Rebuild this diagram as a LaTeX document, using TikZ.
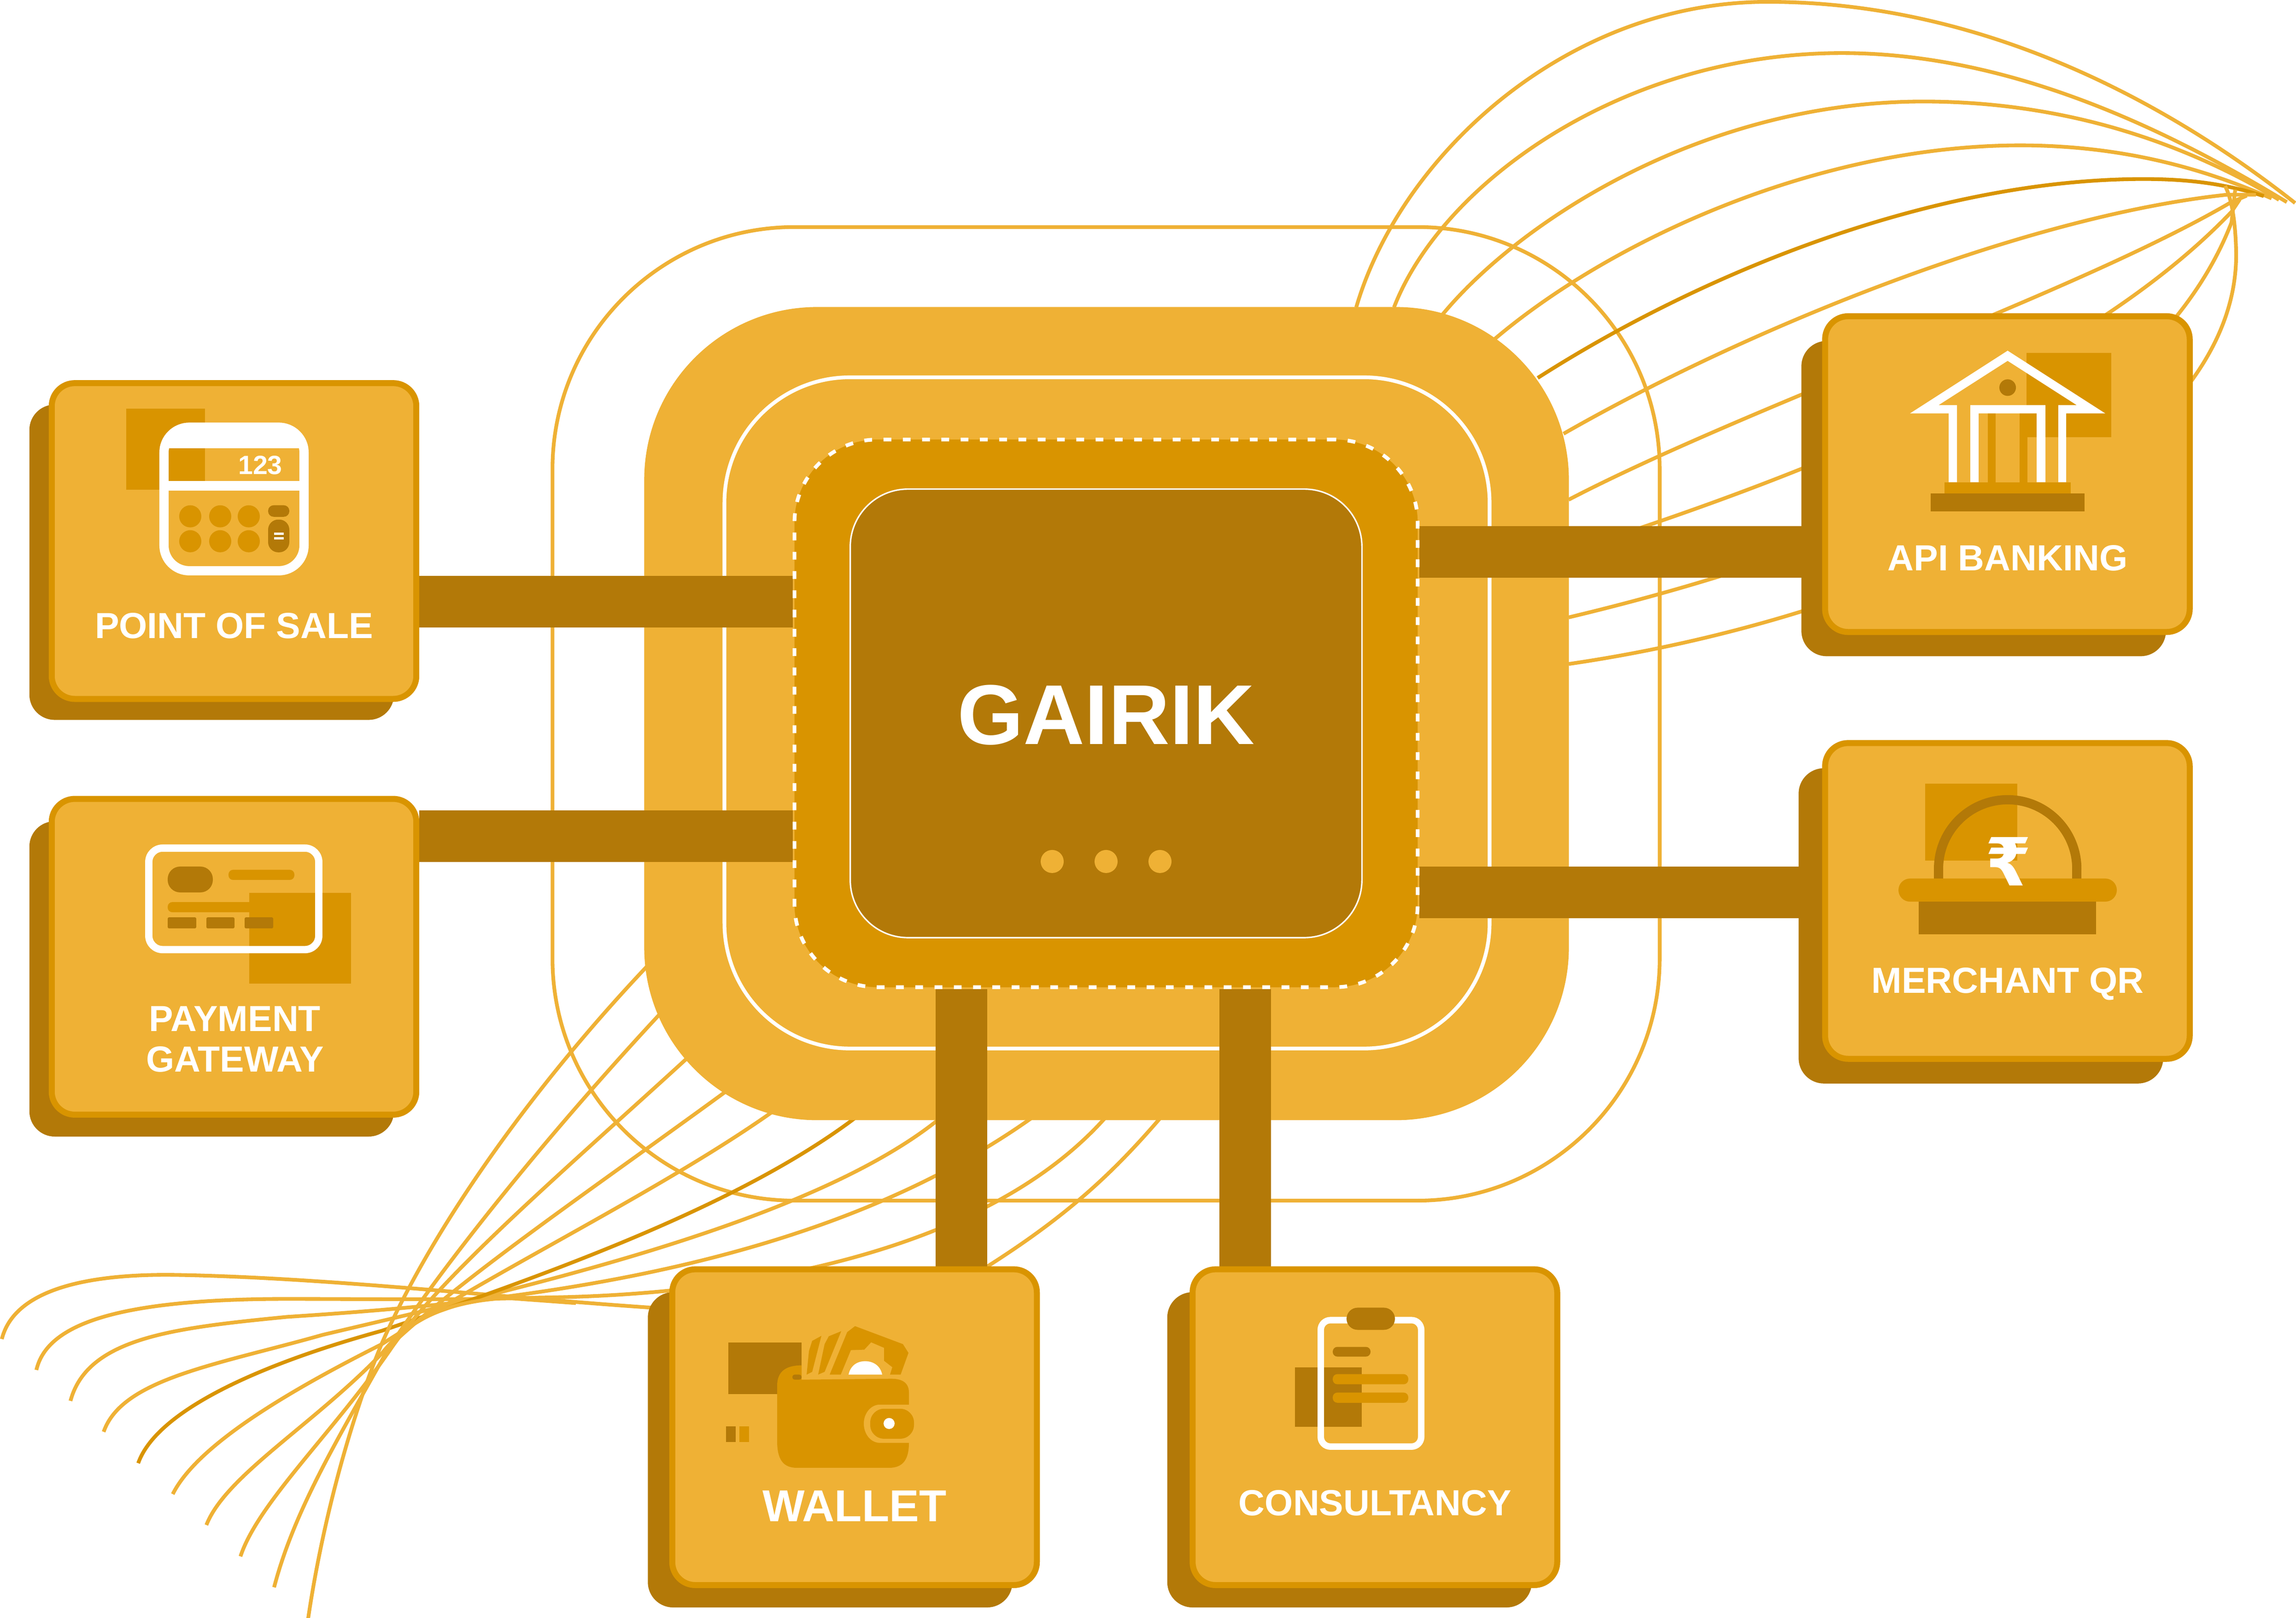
\documentclass[tikz,border=0pt]{standalone}
\usepackage{fontspec}
\setmainfont{Liberation Sans}
\newfontfamily\rupeefont{DejaVu Sans}
\definecolor{lighttone}{HTML}{EFB135}
\definecolor{midtone}{HTML}{D99400}
\definecolor{darktone}{HTML}{B37908}
\pgfdeclarelayer{back}
\pgfdeclarelayer{wire}
\pgfsetlayers{back,wire,main}
\tikzset{
  shadebox/.style={fill=darktone,rounded corners=0.55cm,minimum width=7.91cm,minimum height=6.84cm,inner sep=0pt},
  cardbox/.style={fill=lighttone,draw=midtone,line width=3.7pt,rounded corners=0.5cm,minimum width=7.91cm,minimum height=6.85cm,inner sep=0pt},
  cardlabel/.style={text=white,inner sep=0pt,align=center,font=\bfseries\fontsize{22.4}{25}\selectfont},
  busbar/.style={draw=darktone,line width=31.87pt},
  swirl/.style={draw=lighttone,line width=2.3pt},
  swirldark/.style={draw=midtone,line width=2.3pt},
  lightfill/.style={fill=lighttone},
  midfill/.style={fill=midtone},
  darkfill/.style={fill=darktone}
}
\begin{document}
\begin{tikzpicture}[x=0.01cm,y=-0.010015cm]
\useasboundingbox (0,2) rectangle (4984,3507.7);

\begin{pgfonlayer}{back}
\node[draw=lighttone,line width=2.3pt,rounded corners=5.25cm,minimum width=24.02cm,minimum height=21.12cm,inner sep=0pt] (ring) at (2401,1549) {};
\draw[swirl] (2944,668) .. controls (3040,340) and (3400,6) .. (3837,6) .. controls (4300,6) and (4700,220) .. (4982,442);
\draw[swirl] (3026,668) .. controls (3130,400) and (3520,117) .. (3998,117) .. controls (4360,117) and (4700,280) .. (4964,440);
\draw[swirl] (3131,684) .. controls (3300,480) and (3700,222) .. (4175,222) .. controls (4480,222) and (4740,310) .. (4947,435);
\draw[swirl] (3243,738) .. controls (3500,520) and (3950,317) .. (4385,317) .. controls (4600,317) and (4780,365) .. (4931,432);
\draw[swirldark] (3338,821) .. controls (3700,590) and (4200,390) .. (4653,390) .. controls (4750,390) and (4830,400) .. (4914,427);
\draw[swirl] (3394,942) .. controls (3800,710) and (4400,470) .. (4834,424) -- (4897,424);
\draw[swirl] (3405,1085) .. controls (3800,880) and (4500,640) .. (4840,442) -- (4877,426);
\draw[swirl] (3405,1197) .. controls (3900,1040) and (4520,800) .. (4844,461) -- (4862,434);
\draw[swirl] (3405,1340) .. controls (3950,1210) and (4660,960) .. (4844,484) -- (4852,413);
\draw[swirl] (3405,1441) .. controls (4100,1340) and (4860,1000) .. (4854,549) .. controls (4853,500) and (4848,440) .. (4830,405);
\draw[swirl] (4,2904) .. controls (30,2800) and (180,2762) .. (381,2765) .. controls (700,2770) and (1100,2815) .. (1415,2836);
\draw[swirl] (2130,2755) .. controls (2330,2630) and (2430,2530) .. (2540,2400);
\draw[swirl] (79,2971) .. controls (100,2880) and (230,2817) .. (622,2817) .. controls (800,2817) and (1000,2820) .. (1173,2814) .. controls (1600,2810) and (2160,2720) .. (2420,2400);
\draw[swirl] (153,3038) .. controls (190,2900) and (380,2880) .. (622,2856) .. controls (1100,2825) and (1800,2760) .. (2280,2395);
\draw[swirl] (225,3105) .. controls (265,2990) and (470,2960) .. (700,2895) .. controls (1100,2800) and (1800,2650) .. (2070,2400);
\draw[swirldark] (300,3173) .. controls (340,3060) and (560,2960) .. (829,2886) .. controls (1200,2760) and (1650,2600) .. (1900,2390);
\draw[swirl] (375,3240) .. controls (430,3130) and (640,3010) .. (829,2915) .. controls (1100,2740) and (1480,2560) .. (1720,2380);
\draw[swirl] (448,3307) .. controls (490,3200) and (680,3090) .. (829,2935) .. controls (1000,2770) and (1300,2570) .. (1620,2335);
\draw[swirl] (522,3375) .. controls (560,3260) and (720,3110) .. (845,2930) .. controls (960,2760) and (1270,2500) .. (1530,2260);
\draw[swirl] (595,3442) .. controls (640,3270) and (740,3110) .. (840,2930) .. controls (930,2790) and (1150,2500) .. (1460,2170);
\draw[swirl] (669,3509) .. controls (700,3300) and (760,3080) .. (829,2913) .. controls (950,2640) and (1180,2330) .. (1420,2080);
\draw[swirl] (829,2935) .. controls (880,2870) and (960,2822) .. (1100,2815) -- (1250,2826);
\node[fill=lighttone,rounded corners=3.75cm,minimum width=20.06cm,minimum height=17.64cm,inner sep=0pt] (block) at (2402,1548.5) {};
\node[draw=white,line width=2.3pt,rounded corners=2.72cm,minimum width=16.6cm,minimum height=14.56cm,inner sep=0pt] (halo) at (2403,1547) {};
\end{pgfonlayer}

\node[fill=midtone,draw=white,line width=2.3pt,dash pattern=on 4.8pt off 7.1pt,rounded corners=1.8cm,minimum width=13.52cm,minimum height=11.88cm,inner sep=0pt] (frame) at (2401,1548) {};
\node[fill=darktone,draw=white,line width=0.9pt,rounded corners=1.25cm,minimum width=11.1cm,minimum height=9.73cm,inner sep=0pt] (core) at (2401,1548) {};
\node[text=white,inner sep=0pt,font=\bfseries\fontsize{52.4}{54}\selectfont] (gairik) at (2401,1552) {GAIRIK};
\fill[lightfill] (2284,1869) circle (0.25cm);
\fill[lightfill] (2401,1869) circle (0.25cm);
\fill[lightfill] (2518,1869) circle (0.25cm);

\node[shadebox] (posshade) at (459.5,1220.5) {};
\node[cardbox] (pos) at (508,1174.5) {};
\node[shadebox] (payshade) at (459.5,2123.5) {};
\node[cardbox] (pay) at (508,2075.5) {};
\node[shadebox] (apishade) at (4306,1082.5) {};
\node[cardbox] (api) at (4357.5,1029.5) {};
\node[shadebox] (qrshade) at (4300,2008.5) {};
\node[cardbox] (qr) at (4357.5,1954.5) {};
\node[shadebox] (walletshade) at (1802,3144) {};
\node[cardbox] (wallet) at (1855,3095) {};
\node[shadebox] (consultshade) at (2929.5,3144) {};
\node[cardbox] (consult) at (2984.5,3095) {};

\coordinate (posbar) at (0,1306);
\coordinate (paybar) at (0,1814);
\coordinate (apibar) at (0,1198);
\coordinate (qrbar) at (0,1936);
\coordinate (walletbar) at (2087,0);
\coordinate (consultbar) at (2703,0);
\begin{pgfonlayer}{wire}
\draw[busbar] (pos.east |- posbar) -- (frame.west |- posbar);
\draw[busbar] (pay.east |- paybar) -- (frame.west |- paybar);
\draw[busbar] (frame.east |- apibar) -- (api.west |- apibar);
\draw[busbar] (frame.east |- qrbar) -- (qr.west |- qrbar);
\draw[busbar] (frame.south -| walletbar) -- (wallet.north -| walletbar);
\draw[busbar] (frame.south -| consultbar) -- (consult.north -| consultbar);
\end{pgfonlayer}

\fill[midfill] (274,888) rectangle (445,1063);
\draw[white,line width=5.7pt,rounded corners=0.55cm] (356,928) rectangle (660,1239);
\begin{scope}
\clip[rounded corners=0.65cm] (346,918) rectangle (670,1249);
\fill[white] (346,918) rectangle (670,973);
\end{scope}
\fill[white] (346,1044) rectangle (670,1065);
\fill[midfill] (413,1121) circle (0.24cm);
\fill[midfill] (478,1121) circle (0.24cm);
\fill[midfill] (540,1121) circle (0.24cm);
\fill[midfill] (413,1175) circle (0.24cm);
\fill[midfill] (478,1175) circle (0.24cm);
\fill[midfill] (540,1175) circle (0.24cm);
\fill[darkfill,rounded corners=0.12cm] (582,1097) rectangle (628,1122);
\fill[darkfill,rounded corners=0.22cm] (582,1128) rectangle (628,1199);
\fill[white] (595,1156) rectangle (616,1161);
\fill[white] (595,1166) rectangle (616,1171);
\node[text=white,inner sep=0pt,font=\bfseries\fontsize{16.3}{18}\selectfont] (posdigits) at (565,1010) {123};
\node[cardlabel] (poslabel) at (508,1358) {POINT OF SALE};

\fill[midfill] (541,1937) rectangle (762,2134);
\draw[white,line width=4.5pt,rounded corners=0.3cm] (323,1840) rectangle (692,2060);
\fill[darkfill,rounded corners=0.27cm] (364,1880) rectangle (462,1936);
\fill[midfill,rounded corners=0.1cm] (496,1887) rectangle (639,1909);
\fill[midfill,rounded corners=0.1cm] (364,1957) rectangle (550,1979);
\fill[darkfill,rounded corners=0.03cm] (364,1990) rectangle (426,2014);
\fill[darkfill,rounded corners=0.03cm] (448,1990) rectangle (509,2014);
\fill[darkfill,rounded corners=0.03cm] (531,1990) rectangle (593,2014);
\node[cardlabel] (paylabel) at (510,2254) {PAYMENT\\GATEWAY};

\fill[midfill] (4399,767) rectangle (4583,950);
\fill[midfill] (4315,898) rectangle (4332,1047);
\fill[midfill] (4384,898) rectangle (4401,1047);
\fill[white] (4146,898) -- (4230,898) -- (4230,1047) -- (4248,1047) -- (4248,880) -- (4208,880) -- (4358,784) -- (4508,880) -- (4468,880) -- (4468,1047) -- (4485,1047) -- (4485,898) -- (4570,898) -- (4358,762) -- cycle;
\fill[white] (4277,1047) -- (4277,880) -- (4440,880) -- (4440,1047) -- (4421,1047) -- (4421,898) -- (4295,898) -- (4295,1047) -- cycle;
\fill[midfill] (4221,1047) rectangle (4495,1071);
\fill[darkfill] (4191,1071) rectangle (4525,1110);
\fill[darkfill] (4358,842) circle (0.18cm);
\node[cardlabel] (apilabel) at (4358,1211) {API BANKING};

\fill[midfill] (4179,1700) rectangle (4379,1867);
\draw[darktone,line width=5.7pt] (4208,1906) -- (4208,1885) arc[start angle=180,end angle=0,radius=1.5cm] -- (4508,1906);
\fill[midfill,rounded corners=0.25cm] (4121,1906) rectangle (4595,1956);
\fill[darkfill] (4165,1956) rectangle (4550,2027);
\node[text=white,inner sep=0pt,font=\rupeefont\bfseries\fontsize{41}{43}\selectfont] (qrsign) at (4360,1869) {₹};
\node[cardlabel] (qrlabel) at (4358,2134) {MERCHANT QR};

\fill[darkfill] (1581,2911) rectangle (1740,3023);
\fill[midfill] (1740,2961) .. controls (1705,2961) and (1687,2975) .. (1687,3005) -- (1687,3125) .. controls (1687,3165) and (1700,3183) .. (1730,3183) -- (1930,3183) .. controls (1960,3183) and (1973,3165) .. (1973,3129) -- (1910,3129) .. controls (1890,3129) and (1875,3110) .. (1875,3087) .. controls (1875,3065) and (1890,3046) .. (1910,3046) -- (1973,3046) -- (1973,3020) .. controls (1973,3000) and (1960,2990) .. (1935,2990) -- (1740,2992) -- cycle;
\fill[darkfill,rounded corners=0.05cm] (1720,2981) rectangle (1740,2992);
\fill[midfill,rounded corners=0.3cm] (1889,3055) rectangle (1984,3120);
\fill[white] (1930,3087) circle (0.12cm);
\fill[midfill] (1751,2981) -- (1756,2930) -- (1763,2908) -- (1783,2897) -- (1763,2975) -- cycle;
\fill[midfill] (1776,2981) -- (1790,2915) -- (1799,2898) -- (1826,2887) -- (1790,2975) -- cycle;
\fill[midfill] (1801,2981) -- (1839,2889) -- (1856,2876) -- (1960,2915) -- (1972,2934) -- (1955,2981) -- (1932,2981) -- (1937,2965) -- (1919,2951) -- (1919,2923) -- (1891,2911) -- (1876,2927) -- (1847,2928) -- (1825,2981) -- cycle;
\fill[white] (1842,2981) .. controls (1846,2962) and (1860,2952) .. (1878,2952) .. controls (1896,2952) and (1911,2962) .. (1915,2981) -- cycle;
\fill[darkfill] (1576,3093) rectangle (1597,3127);
\fill[midfill] (1605,3093) rectangle (1626,3127);
\node[cardlabel,font=\bfseries\fontsize{27.6}{29}\selectfont] (walletlabel) at (1855,3266) {WALLET};

\fill[darkfill] (2811,2965) rectangle (2956,3094);
\draw[white,line width=4pt,rounded corners=0.21cm] (2867,2863) rectangle (3085,3137);
\fill[darkfill,rounded corners=0.24cm] (2923,2836) rectangle (3028,2884);
\fill[darkfill,rounded corners=0.1cm] (2893,2921) rectangle (2975,2942);
\fill[midfill,rounded corners=0.1cm] (2893,2980) rectangle (3057,3002);
\fill[midfill,rounded corners=0.1cm] (2893,3020) rectangle (3057,3042);
\node[cardlabel] (consultlabel) at (2985,3259) {CONSULTANCY};
\end{tikzpicture}
\end{document}
